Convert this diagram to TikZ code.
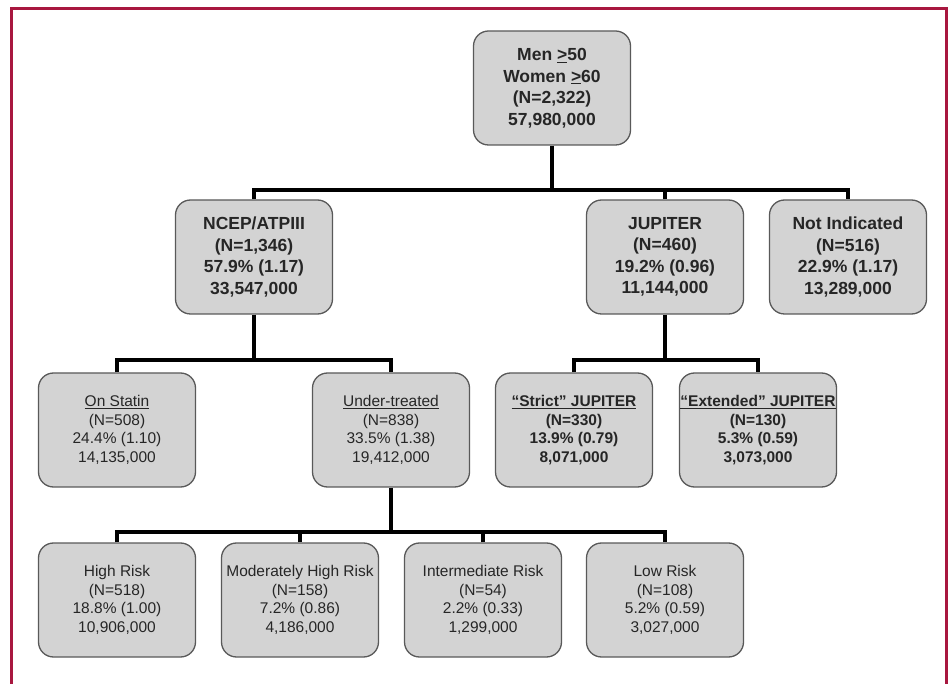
\documentclass[tikz,border=0pt]{standalone}
\usepackage{fontspec}
\setmainfont{Liberation Sans}
\usetikzlibrary{positioning}
\definecolor{framered}{HTML}{A8173F}
\definecolor{boxgray}{HTML}{D3D3D3}

\begin{document}
\begin{tikzpicture}[x=1pt,y=-1pt,
  box/.style={draw=black!65,line width=1.3pt,fill=boxgray,rounded corners=15pt,minimum width=157pt,minimum height=114pt,align=center,text=black!85,inner sep=1pt},
  bbox/.style={box,font=\bfseries\fontsize{17.5}{21.5}\selectfont},
  rbox/.style={box,font=\fontsize{15.5}{18.7}\selectfont},
  sbox/.style={box,font=\bfseries\fontsize{15.5}{18.7}\selectfont},
  conn/.style={draw=black,line width=3.5pt}]

	\useasboundingbox (0,0) rectangle (951,684);
	\draw[framered,line width=3pt] (11,700) -- (11,9) -- (946,9) -- (946,700);

	% top
	\node[bbox] (root) at (552,88) {Men \underline{>}50\\Women \underline{>}60\\(N=2,322)\\57,980,000};

	% second row
	\node[bbox] (ncep) at (254,257) {NCEP/ATPIII\\(N=1,346)\\57.9\% (1.17)\\33,547,000};
	\node[bbox] (jup) at (665,257) {JUPITER\\(N=460)\\19.2\% (0.96)\\11,144,000};
	\node[bbox] (notind) at (848,257) {Not Indicated\\(N=516)\\22.9\% (1.17)\\13,289,000};

	% third row
	\node[rbox] (onstatin) at (117,430) {\underline{On Statin}\\(N=508)\\24.4\% (1.10)\\14,135,000};
	\node[rbox] (under) at (391,430) {\underline{Under-treated}\\(N=838)\\33.5\% (1.38)\\19,412,000};
	\node[sbox] (strict) at (574,430) {\underline{``Strict'' JUPITER}\\(N=330)\\13.9\% (0.79)\\8,071,000};
	\node[sbox] (extended) at (758,430) {\underline{``Extended'' JUPITER}\\(N=130)\\5.3\% (0.59)\\3,073,000};

	% bottom row
	\node[rbox] (high) at (117,600) {High Risk\\(N=518)\\18.8\% (1.00)\\10,906,000};
	\node[rbox] (modhigh) at (300,600) {Moderately High Risk\\(N=158)\\7.2\% (0.86)\\4,186,000};
	\node[rbox] (inter) at (483,600) {Intermediate Risk\\(N=54)\\2.2\% (0.33)\\1,299,000};
	\node[rbox] (low) at (665,600) {Low Risk\\(N=108)\\5.2\% (0.59)\\3,027,000};

	% connectors
	\coordinate (j1) at (552,190);
	\coordinate (j2) at (254,360);
	\coordinate (j3) at (665,360);
	\coordinate (j4) at (391,532);
	\draw[conn] (root) -- (j1);
	\draw[conn] (ncep.north) |- (j1) -| (notind.north);
	\draw[conn] (jup.north) -- (jup.north |- j1);
	\draw[conn] (ncep) -- (j2);
	\draw[conn] (onstatin.north) |- (j2) -| (under.north);
	\draw[conn] (jup) -- (j3);
	\draw[conn] (strict.north) |- (j3) -| (extended.north);
	\draw[conn] (under) -- (j4);
	\draw[conn] (high.north) |- (j4) -| (low.north);
	\draw[conn] (modhigh.north) -- (modhigh.north |- j4);
	\draw[conn] (inter.north) -- (inter.north |- j4);
\end{tikzpicture}
\end{document}
